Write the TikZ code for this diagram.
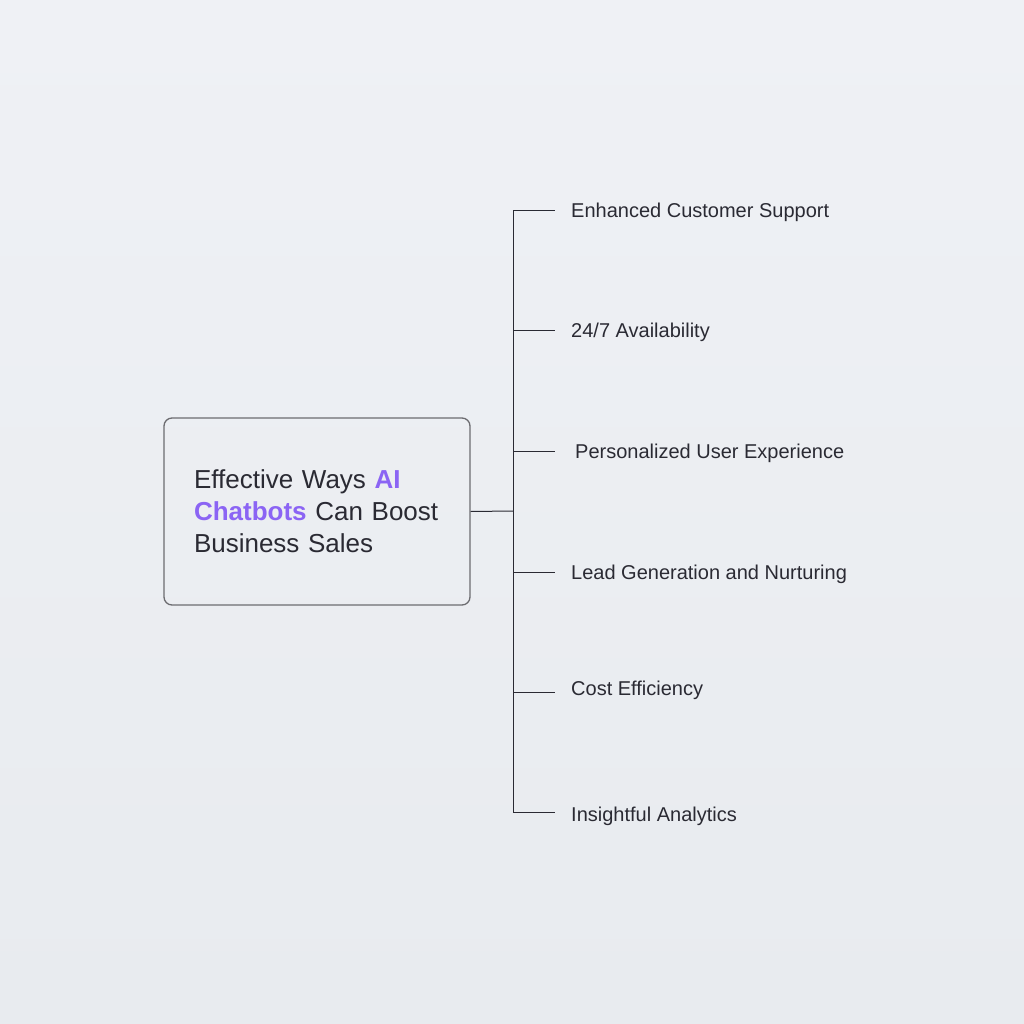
\documentclass[tikz,border=0pt]{standalone}
\usepackage{fontspec}
\setmainfont{Liberation Sans}
\usetikzlibrary{positioning}
\definecolor{bgtop}{HTML}{EFF1F5}
\definecolor{bgbot}{HTML}{E8EBEF}
\definecolor{ink}{HTML}{2A2A33}
\definecolor{accent}{HTML}{8B64F4}
\definecolor{frame}{HTML}{6C6C70}

\begin{document}
\begin{tikzpicture}[x=1pt, y=-1pt,
  stem/.style={draw=ink, line width=1pt},
  item/.style={anchor=base west, inner sep=0pt, text=ink, font=\fontsize{20}{24}\selectfont},
  titlebox/.style={draw=frame, rounded corners=8pt, line width=1.3pt, align=left,
    text width=246pt, inner xsep=30pt, minimum height=187pt, text=ink,
    font=\fontsize{26}{32}\selectfont}]

% ---------- background ----------
\fill[top color=bgtop, bottom color=bgbot] (0,0) rectangle (1024,1024);

% ---------- central box ----------
\node[titlebox] (title) at (317,511.5)
  {Effective Ways {\bfseries\color{accent}AI}\\
   {\bfseries\color{accent}Chatbots} Can Boost\\
   Business Sales};

% ---------- trunk ----------
\coordinate (hub) at (513,511);
\coordinate (top) at (513,211);
\coordinate (bot) at (513,812);
\draw[stem] (title.east) -- (hub);
\draw[stem] (top) -- (bot);

% ---------- branches ----------
\foreach \i/\y/\x/\ty/\txt in {1/211/571/211/{Enhanced Customer Support},
                               2/330/571/330/{24/7 Availability},
                               3/451/575/451/{Personalized User Experience},
                               4/572/571/572/{Lead Generation and Nurturing},
                               5/692/571/688/{Cost Efficiency},
                               6/812/571/814/{Insightful Analytics}} {
  \coordinate (b\i) at (513,\y);
  \coordinate (s\i) at (555,\y);
  \node[item] (l\i) at (\x,\ty+7) {\txt};
  \draw[stem] (b\i) -- (s\i);
}

\end{tikzpicture}
\end{document}
